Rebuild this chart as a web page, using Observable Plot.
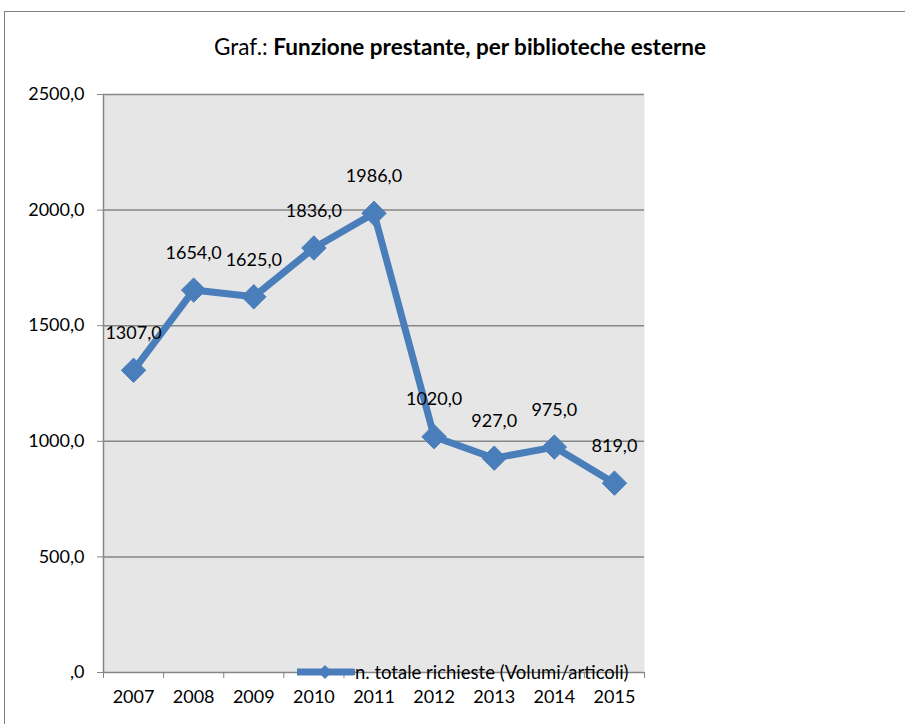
<!DOCTYPE html>
<html>
<head>
<meta charset="utf-8">
<script src="https://cdn.jsdelivr.net/npm/d3@7"></script>
<script src="https://cdn.jsdelivr.net/npm/@observablehq/plot@0.6"></script>
<style>
  html, body { margin: 0; padding: 0; background: #fff; }
  #wrap { position: relative; width: 905px; height: 724px; overflow: hidden; font-family: Lato, "Open Sans", sans-serif; }
  #border { position: absolute; left: 4px; top: 11px; width: 1000px; height: 1000px; border: 1px solid #808080; box-sizing: border-box; }
  #chart { position: absolute; left: 0; top: 0; }
  #title { position: absolute; left: 460px; top: 33px; transform: translateX(-50%); white-space: nowrap; font-size: 22.5px; color: #000; }
  #legend { position: absolute; left: 297px; top: 661px; height: 22px; display: flex; align-items: center; white-space: nowrap; font-size: 18.5px; color: #000; }
</style>
</head>
<body>
<div id="wrap">
  <div id="border"></div>
  <div id="chart"></div>
  <div id="title">Graf.: <b>Funzione prestante, per biblioteche esterne</b></div>
  <div id="legend"></div>
</div>
<script>
const years = [2007, 2008, 2009, 2010, 2011, 2012, 2013, 2014, 2015];
const values = [1307, 1654, 1625, 1836, 1986, 1020, 927, 975, 819];
const yTicks = [0, 500, 1000, 1500, 2000, 2500];
const seriesName = "n. totale richieste (Volumi/articoli)";

const data = years.map((year, i) => ({year, value: values[i]}));
const boundaries = years.map(y => y - 0.5).concat([years[years.length - 1] + 0.5]);
const fmt = v => v === 0 ? ",0" : v.toFixed(1).replace(".", ",");

const lineColor = "#4a7ebb";
const gridColor = "#868686";

const chart = Plot.plot({
  width: 905,
  height: 724,
  marginLeft: 103,
  marginRight: 261,
  marginTop: 94,
  marginBottom: 52,
  style: { fontFamily: "Lato, 'Open Sans', sans-serif", fontSize: "18px", background: "transparent", color: "#000" },
  x: { domain: [boundaries[0], boundaries[boundaries.length - 1]], axis: null },
  y: { domain: [0, 2500], axis: null },
  marks: [
    Plot.frame({ fill: "#e6e6e6", stroke: null }),
    Plot.ruleY(yTicks.filter(d => d > 0), { stroke: gridColor, strokeWidth: 1.5 }),
    Plot.ruleX([boundaries[0]], { stroke: gridColor, strokeWidth: 1.5 }),
    Plot.ruleY([0], { stroke: gridColor, strokeWidth: 1.5 }),
    Plot.axisY({ ticks: yTicks, tickSize: 6, tickPadding: 13, tickFormat: fmt, stroke: gridColor, fill: "#000", fontSize: 18, label: null }),
    Plot.axisX({ ticks: boundaries, tickSize: 6, tickFormat: () => "", stroke: gridColor, label: null }),
    Plot.axisX({ ticks: years, tickSize: 0, tickPadding: 18, tickFormat: d => String(d), fill: "#000", fontSize: 18, label: null }),
    Plot.line(data, { x: "year", y: "value", stroke: lineColor, strokeWidth: 7, strokeLinejoin: "miter" }),
    Plot.dot(data, { x: "year", y: "value", symbol: "diamond2", r: 11, fill: lineColor, stroke: lineColor, strokeWidth: 1 }),
    Plot.text(data, { x: "year", y: "value", text: d => fmt(d.value), dy: -37, fill: "#000", fontSize: 18 })
  ]
});
document.getElementById("chart").appendChild(chart);

const legend = document.getElementById("legend");
legend.innerHTML = `<svg width="58" height="22" style="display:block"><line x1="1" y1="11" x2="56" y2="11" stroke="${lineColor}" stroke-width="7" stroke-linecap="round"/><path d="M28,4 L35,11 L28,18 L21,11 Z" fill="${lineColor}"/></svg><span></span>`;
legend.querySelector("span").textContent = seriesName;
</script>
</body>
</html>
